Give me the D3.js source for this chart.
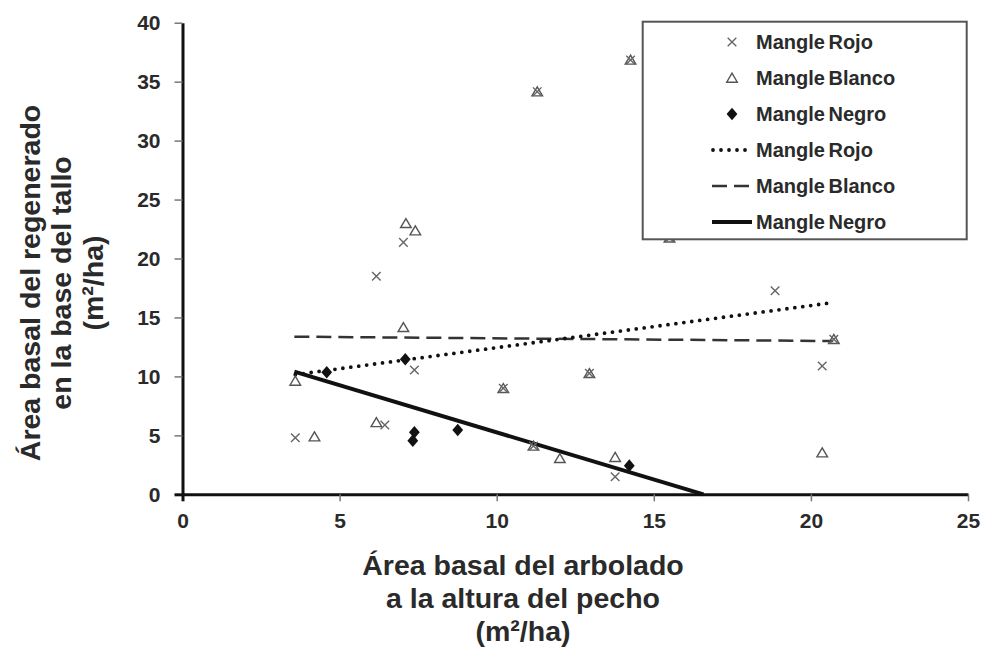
<!DOCTYPE html>
<html><head><meta charset="utf-8">
<script src="https://cdn.jsdelivr.net/npm/d3@7"></script>
<style>
html,body{margin:0;padding:0;background:#fff;}
svg{display:block;font-family:"Liberation Sans",Arial,sans-serif;}
</style></head>
<body><svg id="c" width="981" height="647"></svg>
<script>
// ---- data ----
const xTicks = [0, 5, 10, 15, 20, 25];
const yTicks = [0, 5, 10, 15, 20, 25, 30, 35, 40];

const rojoX = [3.59, 6.17, 6.44, 7.03, 7.38, 10.21, 11.17, 11.29, 12.95, 13.77, 14.26, 15.5, 18.86, 20.36, 20.73];
const rojoY = [4.8, 18.5, 5.88, 21.37, 10.54, 8.99, 4.1, 34.15, 10.26, 1.49, 36.84, 21.75, 17.27, 10.88, 13.15];

const blancoX = [3.59, 4.2, 6.17, 7.03, 7.11, 7.41, 10.21, 11.17, 11.29, 12.01, 12.95, 13.77, 14.26, 15.5, 20.36, 20.73];
const blancoY = [9.61, 4.89, 6.1, 14.16, 22.98, 22.36, 8.99, 4.1, 34.15, 3.05, 10.26, 3.14, 36.84, 21.75, 3.53, 13.15];

const negroX = [4.59, 7.09, 7.38, 7.33, 8.76, 14.22];
const negroY = [10.35, 11.45, 5.26, 4.55, 5.45, 2.43];

// trend lines (start/end points in data units)
const trendRojo = [[3.59, 10.15], [20.73, 16.27]];
const trendBlanco = [[3.56, 13.37], [20.71, 13.0]];
const trendNegro = [[3.56, 10.4], [16.58, 0]];

const legendLabels = ["Mangle Rojo", "Mangle Blanco", "Mangle Negro", "Mangle Rojo", "Mangle Blanco", "Mangle Negro"];
const xTitle = ["Área basal del arbolado", "a la altura del pecho", "(m²/ha)"];
const yTitle = ["Área basal del regenerado", "en la base del tallo", "(m²/ha)"];

// ---- drawing ----
const svg = d3.select("#c");
const x = d3.scaleLinear().domain([0, 25]).range([182.5, 968]);
const y = d3.scaleLinear().domain([0, 40]).range([494.3, 22.7]);
const TXT = "#2a2a2a";

// axes
const xa = svg.append("g").attr("transform", `translate(0,${y(0)})`)
  .call(d3.axisBottom(x).tickValues(xTicks).tickSize(7).tickSizeOuter(0).tickPadding(12));
const ya = svg.append("g").attr("transform", `translate(${x(0)},0)`)
  .call(d3.axisLeft(y).tickValues(yTicks).tickSize(8).tickSizeOuter(0).tickPadding(14));
[xa, ya].forEach(a => {
  a.select(".domain").attr("stroke", "#111").attr("stroke-width", 3);
  a.selectAll(".tick line").attr("stroke", "#777").attr("stroke-width", 1.5);
  a.selectAll(".tick text").attr("fill", TXT).attr("font-size", 21).attr("font-weight", "bold")
    .attr("font-family", "'Liberation Sans',Arial,sans-serif");
  a.selectAll(".tick").filter(d => d === 0).select("line").attr("stroke", "#111").attr("stroke-width", 3);
});

// trend lines
const line = d3.line().x(d => x(d[0])).y(d => y(d[1]));
svg.append("path").datum(trendBlanco).attr("d", line).attr("fill", "none")
  .attr("stroke", "#333").attr("stroke-width", 2.5).attr("stroke-dasharray", "15,7");
svg.append("path").datum(trendRojo).attr("d", line).attr("fill", "none")
  .attr("stroke", "#111").attr("stroke-width", 3.8).attr("stroke-linecap", "round").attr("stroke-dasharray", "0,8");
svg.append("path").datum(trendNegro).attr("d", line).attr("fill", "none")
  .attr("stroke", "#111").attr("stroke-width", 4);

// markers
const triPath = "M0,-4.8L5.3,4.2L-5.3,4.2Z";
const xPath = "M-4.3,-4.3L4.3,4.3M-4.3,4.3L4.3,-4.3";
const diaPath = "M0,-6.3L5.4,0L0,6.3L-5.4,0Z";

svg.append("g").selectAll("path").data(blancoX.map((v, i) => [v, blancoY[i]])).join("path")
  .attr("d", triPath).attr("transform", d => `translate(${x(d[0])},${y(d[1])})`)
  .attr("fill", "none").attr("stroke", "#555").attr("stroke-width", 1.4);
svg.append("g").selectAll("path").data(rojoX.map((v, i) => [v, rojoY[i]])).join("path")
  .attr("d", xPath).attr("transform", d => `translate(${x(d[0])},${y(d[1])})`)
  .attr("fill", "none").attr("stroke", "#666").attr("stroke-width", 1.4);
svg.append("g").selectAll("path").data(negroX.map((v, i) => [v, negroY[i]])).join("path")
  .attr("d", diaPath).attr("transform", d => `translate(${x(d[0])},${y(d[1])})`)
  .attr("fill", "#111");

// legend
const lg = svg.append("g");
lg.append("rect").attr("x", 642.7).attr("y", 21.7).attr("width", 324).attr("height", 217.6)
  .attr("fill", "#fff").attr("stroke", "#555").attr("stroke-width", 2);
const rowY = i => 42 + i * 36;
legendLabels.forEach((t, i) => {
  lg.append("text").attr("x", 756).attr("y", rowY(i) + 7).text(t)
    .attr("font-size", 20).attr("font-weight", "bold").attr("fill", TXT).attr("word-spacing", -2);
});
lg.append("path").attr("d", xPath).attr("transform", `translate(732,${rowY(0)})`)
  .attr("fill", "none").attr("stroke", "#666").attr("stroke-width", 1.4);
lg.append("path").attr("d", triPath).attr("transform", `translate(732,${rowY(1)})`)
  .attr("fill", "none").attr("stroke", "#555").attr("stroke-width", 1.4);
lg.append("path").attr("d", diaPath).attr("transform", `translate(732,${rowY(2)})`).attr("fill", "#111");
lg.append("line").attr("x1", 713).attr("x2", 752).attr("y1", rowY(3)).attr("y2", rowY(3))
  .attr("stroke", "#111").attr("stroke-width", 3.8).attr("stroke-linecap", "round").attr("stroke-dasharray", "0,8");
lg.append("line").attr("x1", 712).attr("x2", 752).attr("y1", rowY(4)).attr("y2", rowY(4))
  .attr("stroke", "#333").attr("stroke-width", 2.5).attr("stroke-dasharray", "15,7");
lg.append("line").attr("x1", 712).attr("x2", 752).attr("y1", rowY(5)).attr("y2", rowY(5))
  .attr("stroke", "#111").attr("stroke-width", 4);

// axis titles
xTitle.forEach((t, i) => {
  svg.append("text").attr("x", 523).attr("y", 575 + i * 33).attr("text-anchor", "middle")
    .attr("font-size", 28.5).attr("font-weight", "bold").attr("fill", TXT).text(t);
});
yTitle.forEach((t, i) => {
  svg.append("text").attr("transform", `translate(${39.5 + i * 31.5},283) rotate(-90)`)
    .attr("text-anchor", "middle").attr("font-size", 28.5).attr("font-weight", "bold").attr("fill", TXT).text(t);
});
</script></body></html>
